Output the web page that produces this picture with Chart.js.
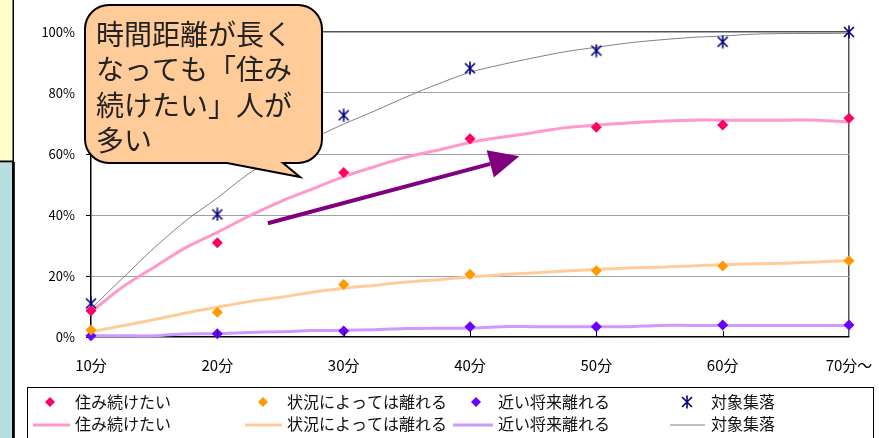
<!DOCTYPE html>
<html lang="ja">
<head>
<meta charset="UTF-8">
<title>時間距離と居住意向</title>
<script src="https://cdn.jsdelivr.net/npm/chart.js"></script>
<style>
    body {
        margin: 0;
        background: #fff;
    }
    .wrap {
        position: relative;
        width: 879px;
        height: 438px;
    }
</style>
</head>
<body>
<div class="wrap">
    <canvas id="distanceChart" width="879" height="438"></canvas>
</div>

<script>
    // survey points (minutes to town) and their percentages
    const minutes = [10, 20, 30, 40, 50, 60, 70];
    const minuteLabels = ['10分', '20分', '30分', '40分', '50分', '60分', '70分～'];
    const stayValues = [8.6, 30.9, 53.9, 65.0, 68.8, 69.5, 71.7];
    const dependValues = [2.3, 8.1, 17.2, 20.6, 21.7, 23.3, 25.0];
    const leaveSoonValues = [0.4, 1.1, 2.0, 3.4, 3.4, 3.9, 3.9];
    const villageValues = [11.0, 40.2, 72.7, 88.1, 93.9, 96.8, 100];

    // fitted curves
    const curveMinutes = [10, 12.5, 15, 17.5, 20, 22.5, 25, 27.5, 30, 32.5, 35, 37.5, 40,
        42.5, 45, 47.5, 50, 52.5, 55, 57.5, 60, 62.5, 65, 67.5, 70];
    const stayCurve = [8.2, 16.4, 22.9, 29.3, 34.3, 39.6, 44.4, 48.5, 52.6, 55.9, 59.0, 61.3, 63.8,
        65.5, 67.0, 68.6, 69.5, 70.2, 70.7, 71.1, 71.1, 71.1, 71.1, 71.1, 70.5];
    const dependCurve = [1.7, 3.7, 5.7, 7.9, 9.8, 11.6, 13.0, 14.7, 16.0, 17.0, 18.0, 18.8, 19.7,
        20.4, 21.0, 21.6, 22.2, 22.6, 22.9, 23.3, 23.7, 24.0, 24.2, 24.6, 25.0];
    const leaveSoonCurve = [0.4, 0.4, 0.4, 1.0, 1.1, 1.5, 1.7, 2.1, 2.2, 2.4, 2.8, 2.9, 2.9,
        3.4, 3.4, 3.4, 3.4, 3.4, 3.8, 3.8, 3.8, 3.8, 3.8, 3.8, 3.8];
    const villageCurve = [9.3, 19.3, 29.2, 38.1, 45.6, 53.6, 59.8, 65.0, 69.8, 74.2, 78.8, 83.0, 86.8,
        89.3, 91.5, 93.5, 95.0, 96.4, 97.4, 98.2, 98.7, 99.3, 99.5, 99.5, 99.6];

    const seriesNames = ['住み続けたい', '状況によっては離れる', '近い将来離れる', '対象集落'];
    const markerColors = ['#FF0066', '#FF9900', '#6A00FF', '#000080'];
    const lineColors = ['#FF99CC', '#FFCC99', '#CC99FF', '#808080'];
    const lineWidths = [3, 3, 3, 1];

    const calloutLines = ['時間距離が長く', 'なっても「住み', '続けたい」人が', '多い'];
    // trend arrow, in minutes / percent
    const arrowFrom = {x: 24.0, y: 37.3};
    const arrowTo = {x: 43.9, y: 59.3};

    const FONT = '"Noto Sans CJK JP", "Noto Sans", sans-serif';

    function makeAsterisk() {
        const c = document.createElement('canvas');
        c.width = 14;
        c.height = 14;
        const g = c.getContext('2d');
        g.strokeStyle = '#000080';
        g.lineWidth = 1.6;
        g.beginPath();
        g.moveTo(2, 2); g.lineTo(12, 12);
        g.moveTo(12, 2); g.lineTo(2, 12);
        g.moveTo(7, 0.5); g.lineTo(7, 13.5);
        g.stroke();
        return c;
    }
    const asterisk = makeAsterisk();

    function points(xs, ys) {
        return xs.map((x, i) => ({x: x, y: ys[i]}));
    }

    function drawDiamond(ctx, x, y, r, color) {
        ctx.fillStyle = color;
        ctx.beginPath();
        ctx.moveTo(x, y - r);
        ctx.lineTo(x + r, y);
        ctx.lineTo(x, y + r);
        ctx.lineTo(x - r, y);
        ctx.closePath();
        ctx.fill();
    }

    const decorations = {
        id: 'decorations',
        beforeDraw(chart) {
            const ctx = chart.ctx;
            ctx.save();
            // side panels
            ctx.fillStyle = '#FFFFCC';
            ctx.fillRect(0, 0, 13, 161);
            ctx.fillStyle = '#B9DEE1';
            ctx.fillRect(0, 162, 12, 276);
            ctx.fillStyle = '#000';
            ctx.fillRect(12.5, 0, 1.5, 162);
            ctx.fillRect(0, 160.5, 14, 1.8);
            ctx.fillRect(12, 162, 2.8, 276);
            ctx.restore();
        },
        afterDatasetsDraw(chart) {
            const ctx = chart.ctx;
            const xs = chart.scales.x;
            const ys = chart.scales.y;
            const area = chart.chartArea;
            ctx.save();
            // inside tick marks on the category axis
            ctx.strokeStyle = '#000';
            ctx.lineWidth = 1;
            minutes.slice(1, -1).forEach(m => {
                const px = Math.round(xs.getPixelForValue(m)) + 0.5;
                ctx.beginPath();
                ctx.moveTo(px, area.bottom);
                ctx.lineTo(px, area.bottom - 6);
                ctx.stroke();
            });

            // trend arrow
            const x1 = xs.getPixelForValue(arrowFrom.x), y1 = ys.getPixelForValue(arrowFrom.y);
            const x2 = xs.getPixelForValue(arrowTo.x), y2 = ys.getPixelForValue(arrowTo.y);
            const ang = Math.atan2(y2 - y1, x2 - x1);
            const headLen = 30, headHalf = 14;
            const bx = x2 - headLen * Math.cos(ang), by = y2 - headLen * Math.sin(ang);
            ctx.strokeStyle = '#800080';
            ctx.fillStyle = '#800080';
            ctx.lineWidth = 4;
            ctx.beginPath();
            ctx.moveTo(x1, y1);
            ctx.lineTo(bx, by);
            ctx.stroke();
            ctx.beginPath();
            ctx.moveTo(x2, y2);
            ctx.lineTo(bx + headHalf * Math.sin(ang), by - headHalf * Math.cos(ang));
            ctx.lineTo(bx - headHalf * Math.sin(ang), by + headHalf * Math.cos(ang));
            ctx.closePath();
            ctx.fill();
            ctx.restore();
        },
        afterDraw(chart) {
            const ctx = chart.ctx;
            ctx.save();

            // speech bubble
            const L = 85, T = 5, R = 322, B = 163, r = 24;
            ctx.beginPath();
            ctx.moveTo(L + r, T);
            ctx.lineTo(R - r, T);
            ctx.arcTo(R, T, R, T + r, r);
            ctx.lineTo(R, B - r);
            ctx.arcTo(R, B, R - r, B, r);
            ctx.lineTo(283, B);
            ctx.lineTo(300, 177);
            ctx.lineTo(227, B);
            ctx.lineTo(L + r, B);
            ctx.arcTo(L, B, L, B - r, r);
            ctx.lineTo(L, T + r);
            ctx.arcTo(L, T, L + r, T, r);
            ctx.closePath();
            ctx.fillStyle = '#FFCC99';
            ctx.fill();
            ctx.strokeStyle = '#000';
            ctx.lineWidth = 2;
            ctx.stroke();

            ctx.fillStyle = '#222';
            ctx.font = '28px ' + FONT;
            ctx.textBaseline = 'middle';
            ctx.textAlign = 'left';
            calloutLines.forEach((line, i) => {
                ctx.fillText(line, 96, 34 + i * 35.5);
            });

            // legend box
            ctx.strokeStyle = '#000';
            ctx.lineWidth = 1;
            ctx.strokeRect(27.5, 387.5, 846, 60);
            const colX = [50, 263, 476, 687];
            const textX = [75, 287, 498, 711];
            const lineX = [[33, 70], [245, 282], [453, 493], [670, 705]];
            ctx.font = '16px ' + FONT;
            seriesNames.forEach((name, i) => {
                if (i === 3) {
                    ctx.drawImage(asterisk, colX[i] - 7, 402 - 7);
                } else {
                    drawDiamond(ctx, colX[i], 402, 5, markerColors[i]);
                }
                ctx.fillStyle = '#111';
                ctx.fillText(name, textX[i], 402);

                ctx.strokeStyle = lineColors[i];
                ctx.lineWidth = lineWidths[i];
                ctx.beginPath();
                ctx.moveTo(lineX[i][0], 425);
                ctx.lineTo(lineX[i][1], 425);
                ctx.stroke();
                ctx.fillStyle = '#111';
                ctx.fillText(name, textX[i], 424);
            });
            ctx.restore();
        }
    };

    const markerSets = [stayValues, dependValues, leaveSoonValues, villageValues].map((vals, i) => ({
        label: seriesNames[i],
        data: points(minutes, vals),
        showLine: false,
        pointStyle: i === 3 ? asterisk : 'rectRot',
        pointRadius: 5.5,
        backgroundColor: markerColors[i],
        borderColor: markerColors[i],
        borderWidth: 0,
        clip: false
    }));

    const curveSets = [stayCurve, dependCurve, leaveSoonCurve, villageCurve].map((vals, i) => ({
        label: seriesNames[i],
        data: points(curveMinutes, vals),
        showLine: true,
        pointRadius: 0,
        borderColor: lineColors[i],
        borderWidth: lineWidths[i],
        tension: 0.3,
        clip: false
    }));

    new Chart(document.getElementById('distanceChart'), {
        type: 'scatter',
        data: {
            datasets: markerSets.concat(curveSets)
        },
        options: {
            responsive: false,
            animation: false,
            layout: {
                padding: {left: 0, top: 32, right: 30, bottom: 61}
            },
            plugins: {
                legend: {display: false},
                tooltip: {enabled: false}
            },
            scales: {
                x: {
                    type: 'linear',
                    min: 10,
                    max: 70,
                    afterFit(scale) {
                        scale.height = 40;
                        scale.paddingLeft = 0;
                        scale.paddingRight = 0;
                    },
                    ticks: {
                        stepSize: 10,
                        padding: 19,
                        color: '#000',
                        font: {family: FONT, size: 15},
                        callback(v) {
                            const i = minutes.indexOf(v);
                            return i >= 0 ? minuteLabels[i] : '';
                        }
                    },
                    grid: {
                        drawTicks: false,
                        color: ctx => ctx.tick && ctx.tick.value === 70 ? '#555' : 'rgba(0,0,0,0)',
                        lineWidth: 1.5
                    },
                    border: {color: '#000', width: 1.5}
                },
                y: {
                    min: 0,
                    max: 100,
                    afterFit(scale) {
                        scale.width = 91;
                        scale.paddingTop = 0;
                        scale.paddingBottom = 0;
                    },
                    ticks: {
                        stepSize: 20,
                        padding: 11,
                        color: '#000',
                        font: {family: FONT, size: 13},
                        callback: v => v + '%'
                    },
                    grid: {
                        tickLength: 5,
                        tickColor: '#000',
                        color: ctx => {
                            const v = ctx.tick ? ctx.tick.value : null;
                            if (v === 100) return '#555';
                            if (v === 0) return 'rgba(0,0,0,0)';
                            return '#A0A0A0';
                        },
                        lineWidth: ctx => ctx.tick && ctx.tick.value === 100 ? 1.5 : 1
                    },
                    border: {color: '#000', width: 1.5}
                }
            }
        },
        plugins: [decorations]
    });
</script>
</body>
</html>
